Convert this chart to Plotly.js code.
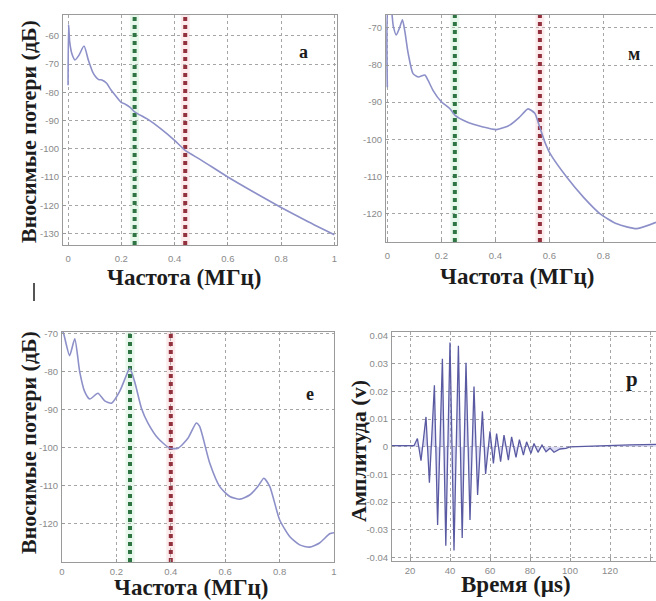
<!DOCTYPE html>
<html>
<head>
<meta charset="utf-8">
<script src="https://cdn.plot.ly/plotly-3.0.1.min.js"></script>
<style>html,body{margin:0;padding:0;background:#fff;}#chart{width:656px;height:601px;}</style>
</head>
<body>
<div id="chart"></div>
<script>
// ---- Panel "а": insertion loss vs frequency ----
const freqA = [0.0, 0.002, 0.006, 0.015, 0.026, 0.04, 0.06, 0.076, 0.095, 0.115, 0.127, 0.145, 0.16, 0.177, 0.2, 0.215, 0.233, 0.25, 0.3, 0.35, 0.4, 0.44, 0.5, 0.6, 0.7, 0.8, 0.9, 1.0];
const lossA = [-77.5, -56, -62, -66.5, -68.5, -67, -63.6, -68.5, -73.3, -75.5, -75.6, -76.8, -79, -81, -83.6, -84.2, -85.3, -86.9, -89.6, -93, -97, -100.6, -104, -110, -115.5, -120.8, -125.8, -130.5];
const markersA = [0.25, 0.44];

// ---- Panel "м" ----
const freqM = [0.0, 0.004, 0.012, 0.022, 0.033, 0.045, 0.056, 0.065, 0.077, 0.095, 0.114, 0.139, 0.15, 0.169, 0.2, 0.231, 0.25, 0.293, 0.354, 0.404, 0.453, 0.49, 0.521, 0.546, 0.564, 0.583, 0.603, 0.664, 0.726, 0.788, 0.85, 0.924, 0.995];
const lossM = [-86, -64, -64, -69.5, -71.9, -70, -67.8, -71, -76.8, -82.3, -83.2, -82.7, -84, -86.8, -89.9, -91.7, -93.5, -95.3, -96.7, -97.4, -96.2, -94, -91.8, -93, -96.7, -100.7, -103.9, -110.2, -115.6, -120.1, -122.8, -124.1, -122.4];
const markersM = [0.25, 0.565];

// ---- Panel "е" ----
const freqE = [0.0, 0.006, 0.028, 0.047, 0.065, 0.083, 0.102, 0.132, 0.157, 0.182, 0.212, 0.237, 0.249, 0.267, 0.292, 0.316, 0.353, 0.396, 0.427, 0.463, 0.494, 0.506, 0.543, 0.58, 0.617, 0.654, 0.69, 0.72, 0.742, 0.764, 0.8, 0.837, 0.874, 0.91, 0.947, 0.984, 1.0];
const lossE = [-69, -70, -75.8, -71.4, -80, -85.2, -87.2, -85.7, -87.7, -88.3, -85.2, -80.9, -79.1, -82.6, -89.6, -93.5, -97.5, -100.1, -100.1, -97.5, -93.5, -94.4, -104, -110.2, -112.8, -113.5, -112.4, -110.2, -108, -110.2, -118.9, -123.3, -125.5, -126.1, -125, -122.6, -122.3];
const markersE = [0.25, 0.40];

// ---- Panel "р": time signal ----
const timeP = [11, 22, 23.7, 25.5, 28, 29.7, 32.2, 33.8, 36.2, 37.9, 40, 42, 44.2, 46.1, 48, 50, 52, 53.8, 56.2, 57.8, 60, 61.7, 63.3, 65.3, 67, 69.2, 70.8, 73, 74.7, 76.7, 78.3, 80.5, 82, 84, 86, 88, 90, 92, 95, 98, 100, 110, 120, 130, 143];
const ampP = [0.0004, 0.0004, 0.003, -0.005, 0.0108, -0.013, 0.0222, -0.0283, 0.0318, -0.0358, 0.0377, -0.0375, 0.0365, -0.033, 0.0304, -0.0265, 0.0218, -0.0174, 0.0128, -0.0098, 0.0056, -0.006, 0.0048, -0.0054, 0.0042, -0.0048, 0.0036, -0.0038, 0.0026, -0.003, 0.0018, -0.0024, 0.0012, -0.002, 0.0006, -0.0018, -0.0005, -0.002, -0.0008, -0.0006, 0.0, 0.0003, 0.0005, 0.0007, 0.0009];

// tick labels
const freqTicks = [0, 0.2, 0.4, 0.6, 0.8, 1];
const freqTickText = ["0", "0.2", "0.4", "0.6", "0.8", "1"];
const lossTicksA = [-60, -70, -80, -90, -100, -110, -120, -130];
const lossTicksM = [-70, -80, -90, -100, -110, -120];
const timeTicks = [20, 40, 60, 80, 100, 120, 140];
const ampTicks = [0.04, 0.03, 0.02, 0.01, 0, -0.01, -0.02, -0.03, -0.04];
const ampTickText = ["0.04", "0.03", "0.02", "0.01", "0", "-0.01", "-0.02", "-0.03", "-0.04"];

const W = 656, H = 601;
const px = v => v / W, py = v => 1 - v / H;

const ranges = {
  a: {x: [-0.019, 1.01], y: [-134.1, -52.6]},
  m: {x: [-0.005, 0.995], y: [-127.7, -66.5]},
  e: {x: [0, 1], y: [-130, -69.6]},
  p: {x: [11, 143], y: [-0.0413, 0.0415]}
};

const curveColor = '#8d90c8';
const greenDot = '#2f7543', redDot = '#93303d';

function curve(x, y, xa, ya) {
  return {x, y, xaxis: xa, yaxis: ya, mode: 'lines', type: 'scatter',
    line: {color: curveColor, width: 1.6, shape: 'spline', smoothing: 0.6}, hoverinfo: 'skip'};
}
function vmarks(vals, yr, xa, ya) {
  const out = [];
  const cols = [[greenDot, 'rgba(160,225,175,0.25)'], [redDot, 'rgba(240,175,185,0.25)']];
  vals.forEach((v, i) => {
    out.push({x: [v, v], y: yr, xaxis: xa, yaxis: ya, mode: 'lines', type: 'scatter',
      line: {color: cols[i][1], width: 9}, hoverinfo: 'skip'});
    out.push({x: [v, v], y: yr, xaxis: xa, yaxis: ya, mode: 'lines', type: 'scatter',
      line: {color: cols[i][0], width: 4, dash: 'dot'}, hoverinfo: 'skip'});
  });
  return out;
}

const data = [
  ...vmarks(markersA, ranges.a.y, 'x', 'y'),
  curve(freqA, lossA, 'x', 'y'),
  ...vmarks(markersM, ranges.m.y, 'x2', 'y2'),
  curve(freqM, lossM, 'x2', 'y2'),
  ...vmarks(markersE, ranges.e.y, 'x3', 'y3'),
  curve(freqE, lossE, 'x3', 'y3'),
  {x: timeP, y: ampP, xaxis: 'x4', yaxis: 'y4', mode: 'lines', type: 'scatter',
   fill: 'tozeroy', fillcolor: 'rgba(150,150,220,0.35)',
   line: {color: '#5a5aa2', width: 1.3}, hoverinfo: 'skip'}
];

const tickFont = {family: 'Liberation Sans', size: 9.5, color: '#8a8a8a'};
function axis(domain, range, tickvals, ticktext, anchor, standoff) {
  return {domain, range, tickvals, ticktext, anchor, autorange: false,
    showgrid: true, gridcolor: '#a6a6a6', griddash: 'dot', gridwidth: 1,
    zeroline: false, showline: true, mirror: true, linecolor: '#9a9a9a', linewidth: 1,
    ticks: 'inside', ticklen: 3, tickcolor: '#9a9a9a', tickfont: tickFont,
    ticklabelstandoff: standoff || 0, fixedrange: true};
}

const SERIF = 'Liberation Serif';
const yTitleFont = {family: SERIF, size: 22, color: '#1c1c1c'};
const xTitleFont = {family: SERIF, size: 23, color: '#1c1c1c'};
const letterFont = {family: SERIF, size: 18, color: '#1c1c1c'};
function ann(text, x, y, font, angle) {
  return {text: '<b>' + text + '</b>', x: px(x), y: py(y), xref: 'paper', yref: 'paper', showarrow: false,
    xanchor: 'center', yanchor: 'middle', font, textangle: angle || 0};
}

const layout = {
  width: W, height: H, margin: {l: 0, r: 0, t: 0, b: 0},
  paper_bgcolor: '#ffffff', plot_bgcolor: '#ffffff', showlegend: false,
  xaxis: axis([px(63), px(337)], ranges.a.x, freqTicks, freqTickText, 'y', 5),
  yaxis: axis([py(245), py(15)], ranges.a.y, lossTicksA, lossTicksA.map(String), 'x', 1),
  xaxis2: axis([px(386), 1], ranges.m.x, freqTicks, freqTickText, 'y2', 5),
  yaxis2: axis([py(242), py(15)], ranges.m.y, lossTicksM, lossTicksM.map(String), 'x2', 1),
  xaxis3: axis([px(62), px(334)], ranges.e.x, freqTicks, freqTickText, 'y3', 1),
  yaxis3: axis([py(562), py(332)], ranges.e.y, lossTicksM, lossTicksM.map(String), 'x3', 1),
  xaxis4: axis([px(392), 1], ranges.p.x, timeTicks, timeTicks.map(String), 'y4', 1),
  yaxis4: axis([py(561), py(332)], ranges.p.y, ampTicks, ampTickText, 'x4', 1),
  annotations: [
    ann('Вносимые потери (дБ)', 28, 132, yTitleFont, -90),
    ann('Частота (МГц)', 185, 277, xTitleFont),
    ann('Частота (МГц)', 517, 276, xTitleFont),
    ann('Вносимые потери (дБ)', 28, 443, yTitleFont, -90),
    ann('Частота (МГц)', 191, 587, xTitleFont),
    ann('Амплитуда (v)', 358, 451, yTitleFont, -90),
    ann('Время (µs)', 516, 584, xTitleFont),
    ann('а', 303, 52, letterFont),
    ann('м', 634, 54, letterFont),
    ann('е', 310, 394, letterFont),
    ann('р', 632, 379, {family: SERIF, size: 21, color: '#1c1c1c'})
  ],
  shapes: [
    {type: 'line', xref: 'paper', yref: 'paper', x0: px(34), x1: px(34), y0: py(283), y1: py(301),
     line: {color: '#555', width: 2}}
  ]
};

Plotly.newPlot('chart', data, layout, {staticPlot: true, displayModeBar: false});
</script>
</body>
</html>
